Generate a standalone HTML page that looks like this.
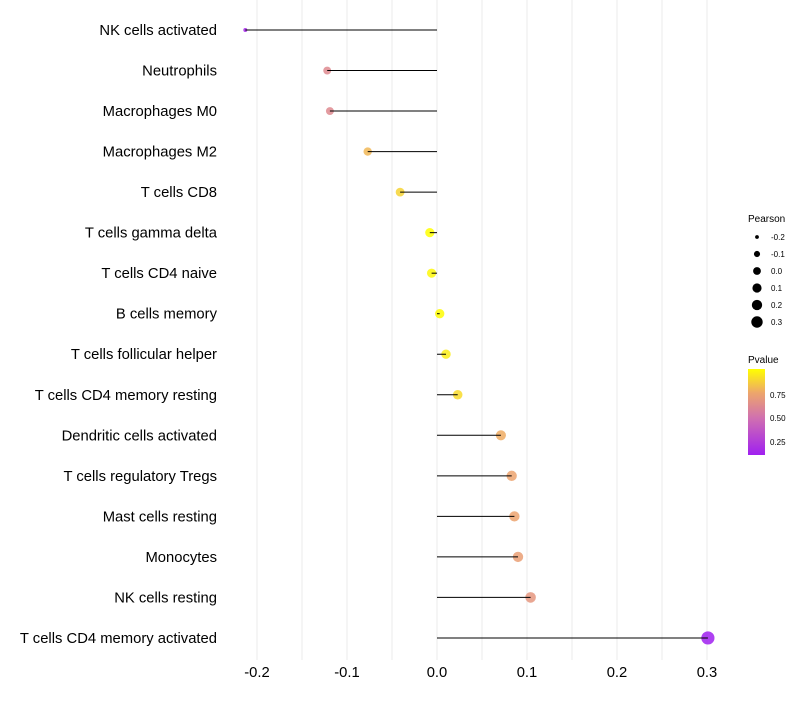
<!DOCTYPE html>
<html><head><meta charset="utf-8"><style>
body{margin:0;background:#fff;font-family:"Liberation Sans",sans-serif}
svg text{font-family:"Liberation Sans",sans-serif}
</style></head><body>
<svg id="chart" width="800" height="700" xmlns="http://www.w3.org/2000/svg">
<g id="grid"></g>
<g id="marks"></g>
<g id="yaxis"></g>
<g id="xaxis"></g>
<g id="legS">
<text x="748" y="222" font-size="10">Pearson</text>
</g>
<g>
<text x="748" y="363" font-size="10">Pvalue</text>
<defs><linearGradient id="pg" x1="0" y1="1" x2="0" y2="0">
<stop offset="0" stop-color="#A020F0"/><stop offset="0.43" stop-color="#D070B0"/><stop offset="0.72" stop-color="#EDA56C"/><stop offset="1" stop-color="#FFFF00"/></linearGradient></defs>
<rect x="748" y="369" width="17" height="86" fill="url(#pg)"/>
<text x="770" y="398" font-size="8">0.75</text>
<text x="770" y="421" font-size="8">0.50</text>
<text x="770" y="445" font-size="8">0.25</text>
</g>
</svg>
<script>
const categories=["NK cells activated","Neutrophils","Macrophages M0","Macrophages M2","T cells CD8","T cells gamma delta","T cells CD4 naive","B cells memory","T cells follicular helper","T cells CD4 memory resting","Dendritic cells activated","T cells regulatory  Tregs","Mast cells resting","Monocytes","NK cells resting","T cells CD4 memory activated"];
const pearson=[-0.213,-0.122,-0.119,-0.077,-0.041,-0.008,-0.006,0.003,0.010,0.023,0.071,0.083,0.086,0.090,0.104,0.301];
const pvalue=[0.15,0.62,0.62,0.8,0.88,1.0,0.98,0.99,0.95,0.9,0.77,0.74,0.74,0.72,0.68,0.12];
const xTicks=[-0.2,-0.1,0.0,0.1,0.2,0.3];
const xTickLabels=["-0.2","-0.1","0.0","0.1","0.2","0.3"];
const legendVals=[-0.2,-0.1,0.0,0.1,0.2,0.3];
const legendLabels=["-0.2","-0.1","0.0","0.1","0.2","0.3"];
const NS="http://www.w3.org/2000/svg";
const x=v=>437+(v*900);
const y=i=>30+i*40.53;
const r=v=>v<-0.2?2:Math.sqrt(Math.max(4,21.5+55*v+60*v*v));
const rl=v=>Math.sqrt(Math.max(2,3+58*(v+0.21)));
function lerp(a,b,t){return Math.round(a+(b-a)*t);}
function col(p){const st=[[0.12,[160,32,240]],[0.5,[208,112,176]],[0.75,[237,165,108]],[1.0,[255,255,0]]];
 p=Math.max(0.12,Math.min(1,p));for(let i=0;i<st.length-1;i++){if(p<=st[i+1][0]){const t=(p-st[i][0])/(st[i+1][0]-st[i][0]);const a=st[i][1],b=st[i+1][1];return `rgb(${lerp(a[0],b[0],t)},${lerp(a[1],b[1],t)},${lerp(a[2],b[2],t)})`;}}return "rgb(255,255,0)";}
function mk(tag,attrs,parent){const e=document.createElementNS(NS,tag);for(const k in attrs)e.setAttribute(k,attrs[k]);parent.appendChild(e);return e;}
const grid=document.getElementById('grid'),marks=document.getElementById('marks'),ya=document.getElementById('yaxis'),xa=document.getElementById('xaxis'),legS=document.getElementById('legS');
for(let v=-0.2;v<=0.3001;v+=0.05){const l=mk('line',{x1:x(v),x2:x(v),y1:0,y2:660,stroke:'#ebebeb','stroke-width':1},grid);

}
categories.forEach((c,i)=>{
 const cc=mk('circle',{cx:x(pearson[i]),cy:y(i),r:r(pearson[i]),fill:col(pvalue[i]),'fill-opacity':0.85},marks);
 
 
 const ln=mk('line',{x1:x(0),x2:x(pearson[i]),y1:y(i),y2:y(i),stroke:'#000','stroke-width':1},marks);
 
 
 const t=mk('text',{x:217,y:y(i)+5,'text-anchor':'end','font-size':14.8,fill:'#000'},ya);t.textContent=c;
 
 
});
xTicks.forEach((v,i)=>{const t=mk('text',{x:x(v),y:677,'text-anchor':'middle','font-size':14.8,fill:'#000'},xa);t.textContent=xTickLabels[i];
 
 });
legendVals.forEach((v,i)=>{const cy=237+i*17;
 const c=mk('circle',{cx:757,cy:cy,r:rl(v),fill:'#000'},legS);
 
 
 const t=mk('text',{x:771,y:cy+3,'font-size':8},legS);t.textContent=legendLabels[i];
 
 });
</script>
</body></html>
